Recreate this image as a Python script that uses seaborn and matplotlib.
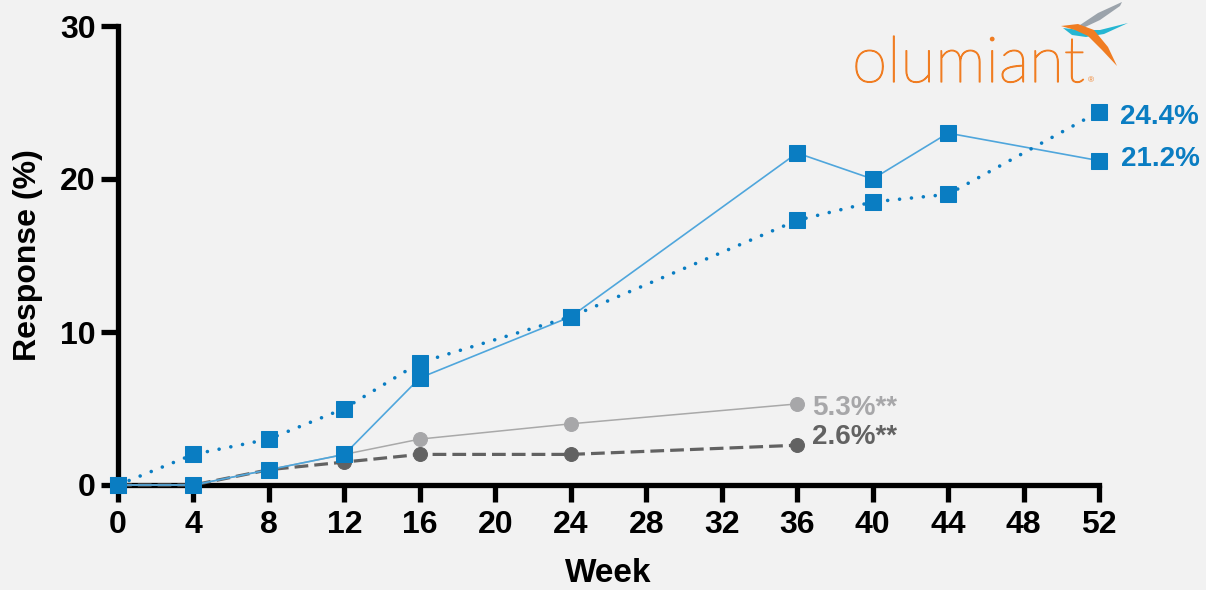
import matplotlib
matplotlib.use("Agg")
import matplotlib.pyplot as plt
import matplotlib.patheffects as pe
from matplotlib.patches import Polygon
import numpy as np
import pandas as pd
import seaborn as sns

# Response (%) by study week for each arm
weeks_bari = [0, 4, 8, 12, 16, 24, 36, 40, 44, 52]
bari_solid = [0, 0, 1.0, 2.0, 7.0, 11.0, 21.7, 20.0, 23.0, 21.2]
bari_dotted = [0, 2.0, 3.0, 5.0, 8.0, 11.0, 17.3, 18.5, 19.0, 24.4]

weeks_pbo = [0, 4, 8, 12, 16, 24, 36]
pbo_light = [0, 0, 1.0, 2.0, 3.0, 4.0, 5.3]
pbo_dark = [0, 0, 1.0, 1.5, 2.0, 2.0, 2.6]

end_labels = ["24.4%", "21.2%", "5.3%**", "2.6%**"]
x_ticks = list(range(0, 53, 4))
y_ticks = [0, 10, 20, 30]

BG = "#f2f2f2"
BLUE = "#0a7dc2"
BLUE_LINE = "#4fa6dc"
LIGHT_GREY = "#a7a7a9"
DARK_GREY = "#626262"
ORANGE = "#f07d22"

sns.set_theme(style="white", rc={
    "axes.facecolor": BG,
    "figure.facecolor": BG,
    "text.color": "black",
    "axes.labelcolor": "black",
    "xtick.color": "black",
    "ytick.color": "black",
})
plt.rcParams["font.family"] = ["Liberation Sans", "DejaVu Sans"]

fig = plt.figure(figsize=(12.06, 5.90), dpi=100)
ax = fig.add_axes([118 / 1206, 1 - 485 / 590, (1099 - 118) / 1206, (485 - 26) / 590])

df_pl = pd.DataFrame({"week": weeks_pbo, "light": pbo_light, "dark": pbo_dark})
df_b = pd.DataFrame({"week": weeks_bari, "solid": bari_solid, "dotted": bari_dotted})

# placebo arms (grey circles)
sns.lineplot(data=df_pl, x="week", y="light", ax=ax, color="#a9a9a9", lw=1.1,
             marker="o", markersize=10, markerfacecolor=LIGHT_GREY,
             markeredgecolor=LIGHT_GREY, clip_on=False, zorder=3)
sns.lineplot(data=df_pl, x="week", y="dark", ax=ax, color=DARK_GREY, lw=2.3,
             linestyle=(0, (4.3, 1.9)), marker="o", markersize=10,
             markerfacecolor=DARK_GREY, markeredgecolor=DARK_GREY,
             clip_on=False, zorder=3)

# baricitinib arms (blue squares)
sns.lineplot(data=df_b, x="week", y="solid", ax=ax, color=BLUE_LINE, lw=1.2,
             marker="s", markersize=11.5, markerfacecolor=BLUE,
             markeredgecolor=BLUE, clip_on=False, zorder=4)
sns.lineplot(data=df_b, x="week", y="dotted", ax=ax, color=BLUE, lw=2.6,
             linestyle=(0, (0.01, 3.3)), marker="s", markersize=11.5,
             markerfacecolor=BLUE, markeredgecolor=BLUE, clip_on=False, zorder=4)
ax.lines[-1].set_dash_capstyle("round")

# end-of-line value labels
lab_kw = dict(textcoords="offset points", fontsize=20, fontweight="bold",
              va="center", ha="left", annotation_clip=False)
ax.annotate(end_labels[0], (weeks_bari[-1], bari_dotted[-1]), xytext=(15, -4),
            color=BLUE, **lab_kw)
ax.annotate(end_labels[1], (weeks_bari[-1], bari_solid[-1]), xytext=(16, 1),
            color=BLUE, **lab_kw)
ax.annotate(end_labels[2], (weeks_pbo[-1], pbo_light[-1]), xytext=(11, -3),
            color=LIGHT_GREY, **lab_kw)
ax.annotate(end_labels[3], (weeks_pbo[-1], pbo_dark[-1]), xytext=(11, 6),
            color=DARK_GREY, **lab_kw)

# axes styling
ax.set_xlim(0, 52)
ax.set_ylim(0, 30)
ax.set_xticks(x_ticks)
ax.set_yticks(y_ticks)
sns.despine(ax=ax)
for side in ("left", "bottom"):
    ax.spines[side].set_linewidth(3.8)
    ax.spines[side].set_color("black")
    ax.spines[side].set_capstyle("projecting")
ax.tick_params(axis="both", which="major", length=12, width=3.8, color="black",
               labelsize=23, labelcolor="black", bottom=True, left=True)
ax.tick_params(axis="x", pad=6)
ax.tick_params(axis="y", pad=4)
for t in ax.get_xticklabels() + ax.get_yticklabels():
    t.set_fontweight("bold")
ax.set_xlabel("Week", fontsize=24, fontweight="bold", labelpad=13, color="black")
ax.set_ylabel("Response (%)", fontsize=23, fontweight="bold", labelpad=12,
              color="black")
ax.grid(False)

# brand mark
brand = fig.text(852 / 1206, 1 - 82 / 590, "olumiant", fontsize=46, color=ORANGE,
                 family=["Lato", "DejaVu Sans"], fontweight="light", ha="left",
                 va="baseline")
brand.set_path_effects([pe.withStroke(linewidth=0.9, foreground=ORANGE)])
fig.text(1088 / 1206, 1 - 82 / 590, "®", fontsize=6, color=ORANGE,
         ha="left", va="baseline")

def fig_poly(pts, color):
    pts = np.array(pts, dtype=float)
    pts[:, 0] /= 1206
    pts[:, 1] = 1 - pts[:, 1] / 590
    fig.patches.append(Polygon(pts, closed=True, transform=fig.transFigure,
                               facecolor=color, edgecolor="none"))

fig_poly([(1080, 25), (1098, 13), (1122, 2), (1120, 6), (1100, 20), (1083, 28)], "#9ba3ab")
fig_poly([(1063, 28), (1080, 30), (1100, 30), (1128, 23), (1104, 34), (1086, 37), (1072, 35)], "#25b6d2")
fig_poly([(1061, 26), (1078, 24), (1094, 30), (1108, 47), (1117, 66), (1102, 50), (1088, 36), (1075, 30)], ORANGE)

fig.savefig("out.png", dpi=100, facecolor=BG)
